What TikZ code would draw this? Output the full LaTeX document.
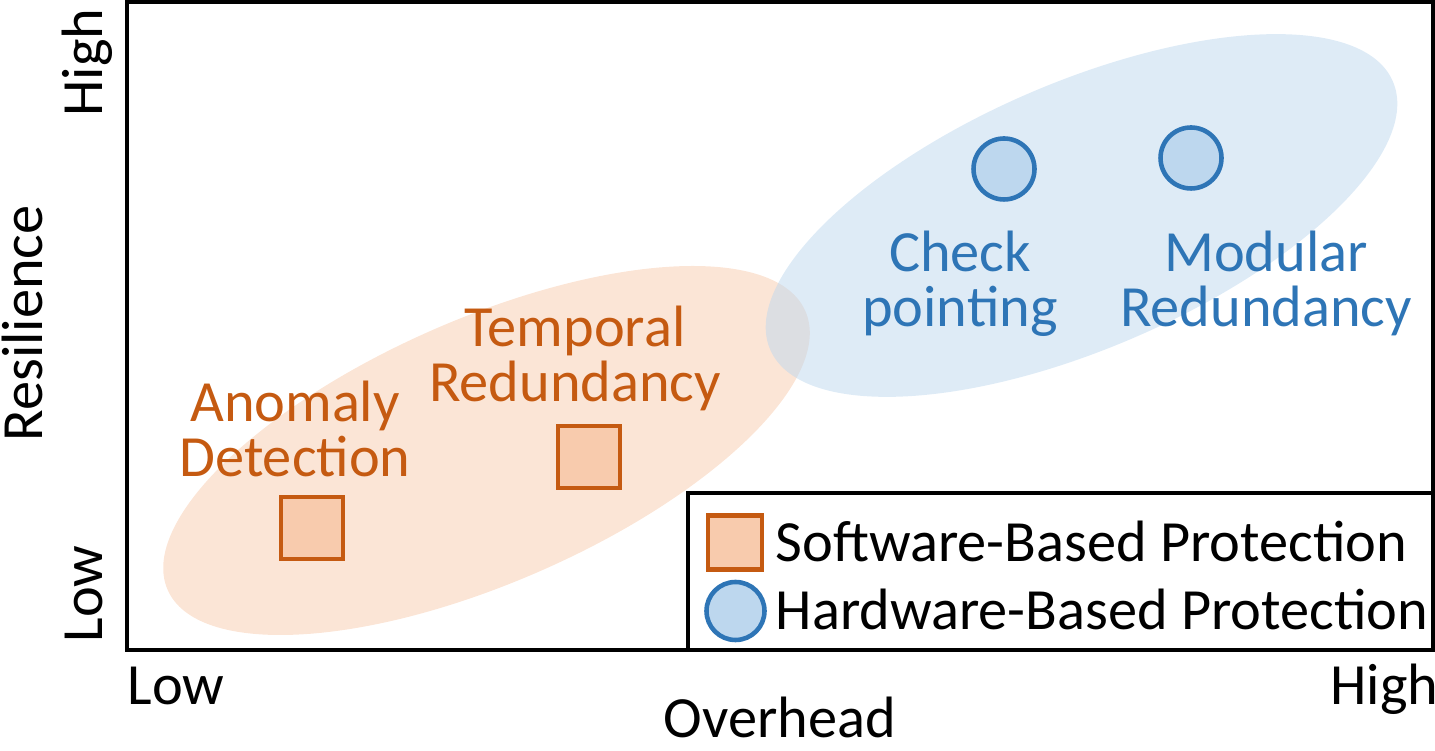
\documentclass[tikz,border=0pt]{standalone}
\usepackage{fontspec}
\setmainfont{Carlito}
\usepackage{xcolor}
\usepackage{tikz}

\definecolor{swline}{HTML}{C55A11}
\definecolor{swfill}{HTML}{F8CBAD}
\definecolor{hwline}{HTML}{2E75B6}
\definecolor{hwfill}{HTML}{BDD7EE}

\begin{document}
\begin{tikzpicture}[
  every node/.style={font=\fontsize{16.6}{15.9}\selectfont, inner sep=0pt},
  swmark/.style={draw=swline, fill=swfill, line width=1.3pt, rectangle, minimum size=0.62cm},
  hwmark/.style={draw=hwline, fill=hwfill, line width=1.3pt, circle, minimum size=0.61cm},
  swtext/.style={text=swline, align=center, anchor=base},
  hwtext/.style={text=hwline, align=center, anchor=base}]
\useasboundingbox (0,0) rectangle (14.35,7.51);

% the two clouds
\fill[swfill, fill opacity=0.5, rotate around={23.6:(4.865,3.005)}]
  (4.865,3.005) ellipse [x radius=3.48, y radius=1.32];
\fill[hwfill, fill opacity=0.5, rotate around={23.3:(10.815,5.355)}]
  (10.815,5.355) ellipse [x radius=3.39, y radius=1.33];

% axes box and legend box
\draw[line width=1.3pt] (1.27,1.01) rectangle (14.33,7.49);
\draw[line width=1.3pt] (6.88,1.01) rectangle (14.33,2.58);

% software techniques
\node[swmark] (ad) at (3.12,2.23) {};
\node[swmark] (tr) at (5.89,2.94) {};
\node[swtext] (adlab) at (2.95,2.74) {Anomaly\\Detection};
\node[swtext] (trlab) at (5.75,3.49) {Temporal\\Redundancy};

% hardware techniques
\node[hwmark] (cp) at (10.04,5.82) {};
\node[hwmark] (mr) at (11.91,5.93) {};
\node[hwtext] (cplab) at (9.60,4.24) {Check\\pointing};
\node[hwtext] (mrlab) at (12.66,4.24) {Modular\\Redundancy};

% legend
\node[swmark, minimum size=0.54cm] (swkey) at (7.35,2.085) {};
\node[hwmark, minimum size=0.58cm] (hwkey) at (7.355,1.40) {};
\node[anchor=base west] (swname) at (7.75,1.89) {Software-Based Protection};
\node[anchor=base west] (hwname) at (7.75,1.21) {Hardware-Based Protection};

% axis labels
\node[anchor=base] (xlow) at (1.76,0.46) {Low};
\node[anchor=base] (xhigh) at (13.845,0.46) {High};
\node[anchor=base] (xname) at (7.80,0.13) {Overhead};
\node[anchor=base, rotate=90] (ylow) at (1.02,1.57) {Low};
\node[anchor=base, rotate=90] (yhigh) at (1.02,6.885) {High};
\node[anchor=base, rotate=90] (yname) at (0.42,4.275) {Resilience};
\end{tikzpicture}
\end{document}
